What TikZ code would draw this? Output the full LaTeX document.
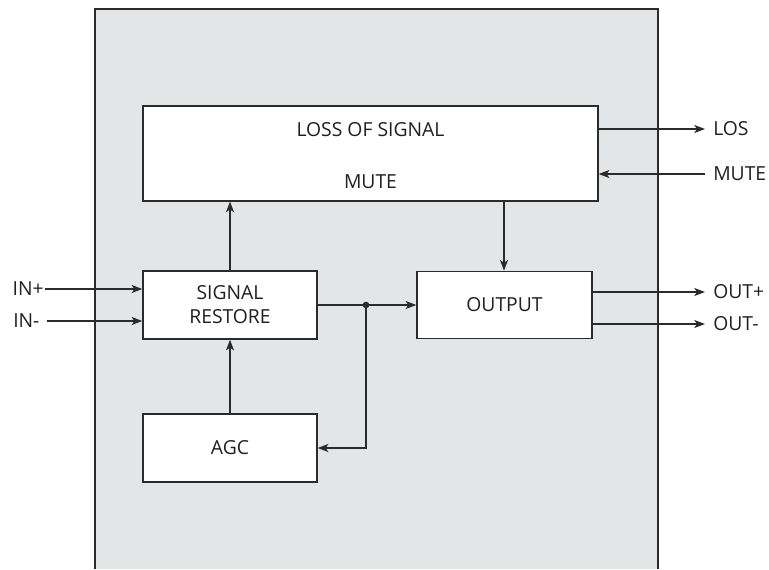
\documentclass[tikz,border=0pt]{standalone}
\usepackage{fontspec}
\setmainfont{Open Sans}
\usetikzlibrary{arrows.meta}
\definecolor{panel}{HTML}{E4E5E7}
\definecolor{ink}{HTML}{2B2B2B}
\definecolor{txt}{HTML}{231F20}
\begin{document}
\begin{tikzpicture}[x=0.75pt,y=-0.75pt,
  every node/.style={font=\fontsize{14.5}{17}\selectfont, text=txt},
  blk/.style={draw=ink, line width=1.05pt, fill=white, inner sep=0pt},
  wire/.style={draw=ink, line width=1.05pt},
  arr/.style={wire, -{Stealth[length=8pt,width=6pt,inset=2pt]}},
  lbl/.style={inner sep=0pt, anchor=west}]
\useasboundingbox (0,0) rectangle (769,569);
% panel
\fill[panel] (95,9) rectangle (658,569);
\draw[wire] (95,569) -- (95,9) -- (658,9) -- (658,569);
% blocks
\node[blk, minimum width=341.25pt, minimum height=71.25pt] (los) at (370.5,153.3) {};
\node (losT) at (370.5,130) {LOSS OF SIGNAL};
\node (losM) at (370.5,182) {MUTE};
\node[blk, minimum width=130.5pt, minimum height=51pt, align=center] (sr) at (230,305) {SIGNAL\\[1pt]RESTORE};
\node[blk, minimum width=131.25pt, minimum height=50.5pt] (out) at (504.5,305) {OUTPUT};
\node[blk, minimum width=130.5pt, minimum height=51pt] (agc) at (230,448) {AGC};
% outer terminals
\coordinate (inp) at (45,289);
\coordinate (inm) at (47,321);
\coordinate (loso) at (705,129);
\coordinate (mutei) at (705,174);
\coordinate (outp) at (705,292);
\coordinate (outm) at (705,324);
\coordinate (j) at (366,305);
\node[lbl, anchor=east] (linp) at (44,289) {IN+};
\node[lbl] (linm) at (13,321) {IN-};
\node[lbl] (llos) at (713,129) {LOS};
\node[lbl] (lmute) at (713,174) {MUTE};
\node[lbl] (loutp) at (713,292) {OUT+};
\node[lbl] (loutm) at (713,324) {OUT-};
% connectors
\draw[arr] (inp) -- (inp -| sr.west);
\draw[arr] (inm) -- (inm -| sr.west);
\draw[arr] (sr.north) -- (sr.north |- los.south);
\draw[arr] ([xshift=-0.375pt]out.north |- los.south) -- ([xshift=-0.375pt]out.north);
\draw[arr] (sr.east) -- (out.west);
\draw[arr] (j) -- (j |- agc.east) -- (agc.east);
\fill[ink] (j) circle (2.5pt);
\draw[arr] (agc.north) -- (sr.south);
\draw[arr] (loso -| los.east) -- (loso);
\draw[arr] (mutei) -- (mutei -| los.east);
\draw[arr] (outp -| out.east) -- (outp);
\draw[arr] (outm -| out.east) -- (outm);
\end{tikzpicture}
\end{document}
